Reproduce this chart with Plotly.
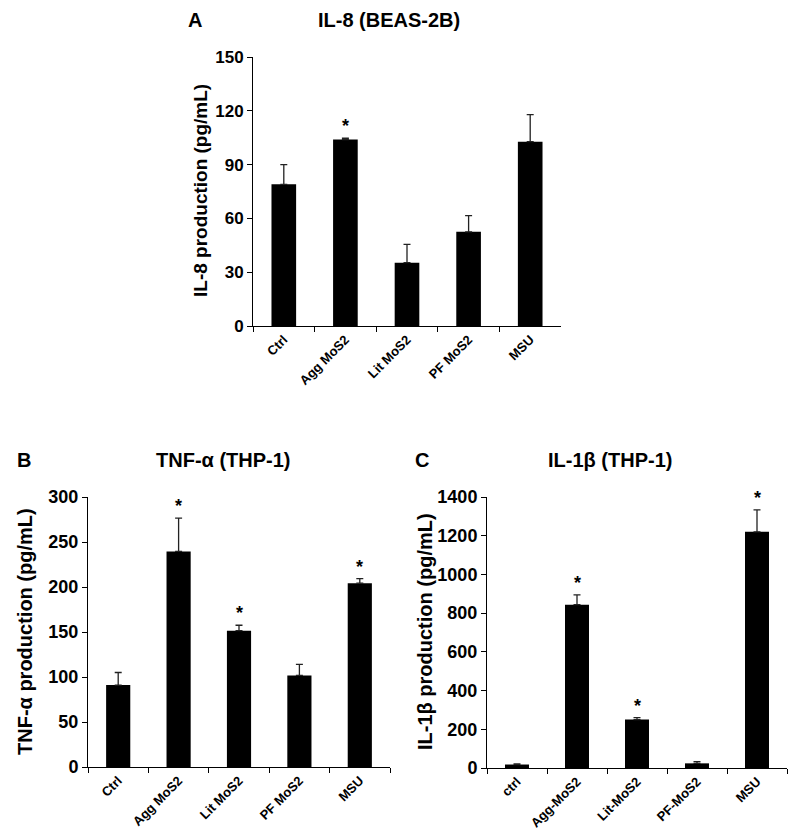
import plotly.graph_objects as go

# Panel A: IL-8 (BEAS-2B)
cats_a = ["Ctrl", "Agg MoS2", "Lit MoS2", "PF MoS2", "MSU"]
vals_a = [79, 104, 35.3, 52.5, 102.8]
errs_a = [11, 0.8, 10.2, 9.1, 15.1]
sig_a = ["", "*", "", "", ""]

# Panel B: TNF-α (THP-1)
cats_b = ["Ctrl", "Agg MoS2", "Lit MoS2", "PF MoS2", "MSU"]
vals_b = [91, 239.5, 151.5, 101.7, 204.2]
errs_b = [14, 37, 6, 12.3, 5]
sig_b = ["", "*", "*", "", "*"]

# Panel C: IL-1β (THP-1)
cats_c = ["ctrl", "Agg-MoS2", "Lit-MoS2", "PF-MoS2", "MSU"]
vals_c = [18, 844, 250, 24, 1220]
errs_c = [3, 50, 10, 9, 113]
sig_c = ["", "*", "*", "", "*"]

FONT = "Arial, Liberation Sans, sans-serif"

# page has an 8px body margin; figure sized to fit the window
OFF = 8
W, H = 792, 830


def px(p):
    return (p - OFF) / W


def py(p):
    return 1 - (p - OFF) / H


fig = go.Figure()

panels = [
    (cats_a, vals_a, errs_a, sig_a, "x", "y"),
    (cats_b, vals_b, errs_b, sig_b, "x2", "y2"),
    (cats_c, vals_c, errs_c, sig_c, "x3", "y3"),
]

annotations = []
for cats, vals, errs, sig, xa, ya in panels:
    fig.add_trace(go.Bar(
        x=cats, y=vals, xaxis=xa, yaxis=ya,
        marker=dict(color="black", line=dict(width=0)),
        error_y=dict(type="data", symmetric=False, array=errs,
                     arrayminus=[0] * len(errs), color="#222222",
                     thickness=1.3, width=3.5),
        showlegend=False,
    ))
    for c, v, e, s in zip(cats, vals, errs, sig):
        if s:
            annotations.append(dict(
                x=c, y=v + e, xref=xa, yref=ya, text="<b>*</b>",
                showarrow=False, yanchor="bottom", yshift=0,
                font=dict(family=FONT, size=18, color="black")))

xcommon = dict(type="category", showline=True, linecolor="black", linewidth=1,
               ticks="outside", tickson="boundaries", ticklen=5, tickcolor="black",
               tickangle=-45, showgrid=False, zeroline=False, automargin=False,
               tickfont=dict(family=FONT, size=13, color="black", weight="bold"))
ycommon = dict(showline=True, linecolor="black", linewidth=1, ticks="outside",
               ticklen=5, tickcolor="black", showgrid=False, zeroline=False,
               automargin=False)

fig.update_layout(
    width=W, height=H,
    margin=dict(l=0, r=0, t=0, b=0),
    paper_bgcolor="white", plot_bgcolor="white",
    bargap=0.6,
    xaxis=dict(domain=[px(253), px(561)], anchor="y", **xcommon),
    yaxis=dict(domain=[py(326), py(57)], anchor="x", range=[0, 150], dtick=30,
               tickfont=dict(family=FONT, size=17, color="black", weight="bold"),
               **ycommon),
    xaxis2=dict(domain=[px(88), px(390)], anchor="y2", **xcommon),
    yaxis2=dict(domain=[py(767), py(497)], anchor="x2", range=[0, 300], dtick=50,
                tickfont=dict(family=FONT, size=18, color="black", weight="bold"),
                **ycommon),
    xaxis3=dict(domain=[px(487), px(787)], anchor="y3", **xcommon),
    yaxis3=dict(domain=[py(768), py(497)], anchor="x3", range=[0, 1400], dtick=200,
                tickfont=dict(family=FONT, size=18, color="black", weight="bold"),
                **ycommon),
)


def txt(x, y, s, size, angle=0):
    return dict(x=px(x), y=py(y), xref="paper", yref="paper", text=s,
                showarrow=False, textangle=angle, xanchor="center",
                yanchor="middle",
                font=dict(family=FONT, size=size, color="black", weight="bold"))


annotations += [
    txt(195, 20, "A", 20),
    txt(389, 20, "IL-8 (BEAS-2B)", 20),
    txt(24, 460, "B", 20),
    txt(224, 460, "TNF-α (THP-1)", 20),
    txt(422, 460, "C", 20),
    txt(610, 460, "IL-1β (THP-1)", 20),
    txt(200, 191, "IL-8 production (pg/mL)", 19, angle=-90),
    txt(25, 632, "TNF-α production (pg/mL)", 20, angle=-90),
    txt(425, 632, "IL-1β production (pg/mL)", 20, angle=-90),
]
fig.update_layout(annotations=annotations)

fig.write_html("out.html")
